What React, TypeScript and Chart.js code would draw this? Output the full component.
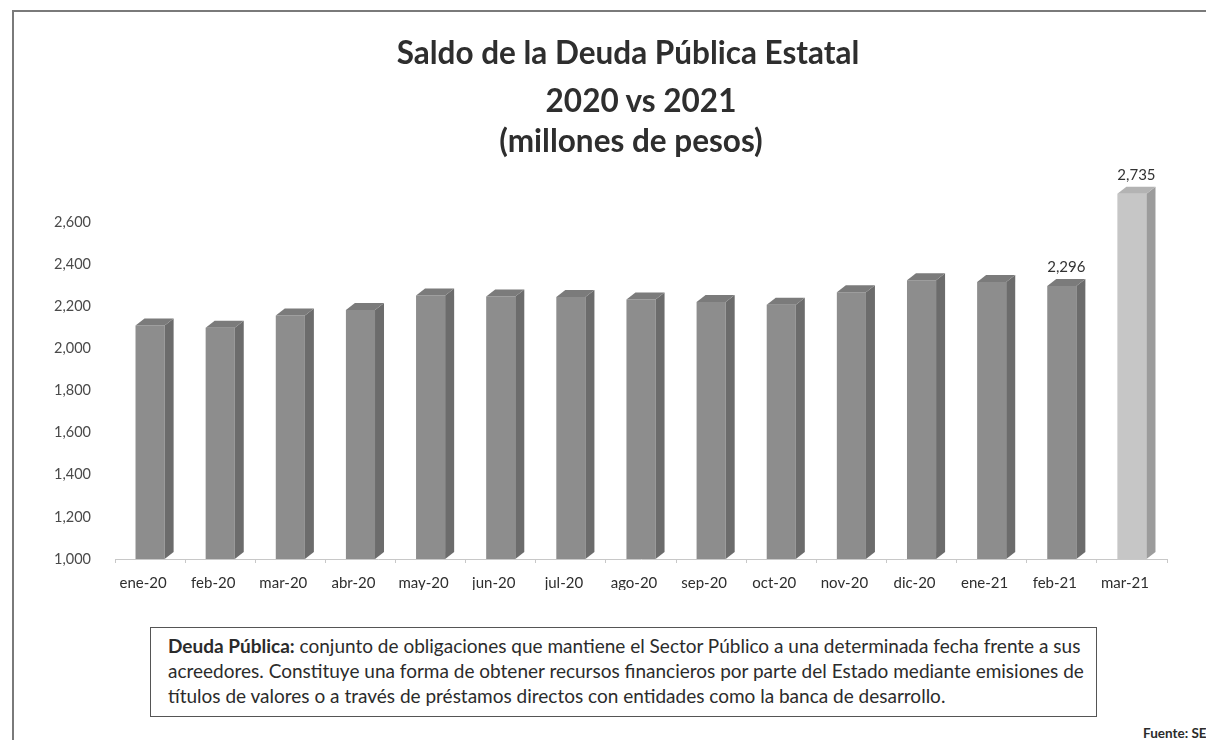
import React, { useEffect, useRef } from "react";
import { Chart, registerables } from "chart.js";

Chart.register(...registerables);

const categories = [
  "ene-20", "feb-20", "mar-20", "abr-20", "may-20", "jun-20", "jul-20", "ago-20",
  "sep-20", "oct-20", "nov-20", "dic-20", "ene-21", "feb-21", "mar-21",
];
const values = [2109, 2098, 2156, 2183, 2251, 2247, 2244, 2232, 2220, 2207, 2267, 2324, 2315, 2296, 2735];
const labeledCategories = ["feb-21", "mar-21"];
const highlightedCategories = ["mar-21"];
const yTicks = [1000, 1200, 1400, 1600, 1800, 2000, 2200, 2400, 2600];
const yMin = 1000;
const yMax = 2800;
const titleLines = ["Saldo de la Deuda Pública Estatal", "2020 vs 2021", "(millones de pesos)"];
const titleCenters = [
  { x: 628, y: 53 },
  { x: 641, y: 101 },
  { x: 631, y: 141 },
];
const noteBold = "Deuda Pública:";
const noteLines = [
  " conjunto de obligaciones que mantiene el Sector Público a una determinada fecha frente a sus",
  "acreedores. Constituye una forma de obtener recursos financieros por parte del Estado mediante emisiones de",
  "títulos de valores o a través de préstamos directos con entidades como la banca de desarrollo.",
];
const sourceText = "Fuente: SEF";

const FONT = "Lato, 'Open Sans', 'DejaVu Sans', sans-serif";
const DX = 9;
const DY = 7;

const fmt = (v: number) => Number(v).toLocaleString("en-US");

const bar3d = {
  id: "bar3d",
  afterDatasetsDraw(chart: any) {
    const ctx = chart.ctx;
    const meta = chart.getDatasetMeta(0);
    const bottom = chart.chartArea.bottom;
    ctx.save();
    meta.data.forEach((bar: any, i: number) => {
      const { x, y, width } = bar.getProps(["x", "y", "width"], true);
      const l = x - width / 2;
      const r = x + width / 2;
      const light = highlightedCategories.includes(categories[i]);
      // side face
      ctx.fillStyle = light ? "#9c9c9c" : "#6c6c6c";
      ctx.beginPath();
      ctx.moveTo(r, y);
      ctx.lineTo(r + DX, y - DY);
      ctx.lineTo(r + DX, bottom - DY);
      ctx.lineTo(r, bottom);
      ctx.closePath();
      ctx.fill();
      // top face
      ctx.fillStyle = light ? "#b3b3b3" : "#7b7b7b";
      ctx.beginPath();
      ctx.moveTo(l, y);
      ctx.lineTo(l + DX, y - DY);
      ctx.lineTo(r + DX, y - DY);
      ctx.lineTo(r, y);
      ctx.closePath();
      ctx.fill();
      if (labeledCategories.includes(categories[i])) {
        ctx.fillStyle = "#333";
        ctx.font = `15px ${FONT}`;
        ctx.textAlign = "center";
        ctx.textBaseline = "bottom";
        ctx.fillText(fmt(values[i]), x + DX / 2, y - DY - 4);
      }
    });
    ctx.restore();
  },
};

export default function App() {
  const ref = useRef<HTMLCanvasElement | null>(null);

  useEffect(() => {
    if (!ref.current) return;
    const chart = new Chart(ref.current, {
      type: "bar",
      data: {
        labels: categories,
        datasets: [
          {
            data: values,
            backgroundColor: categories.map((c) =>
              highlightedCategories.includes(c) ? "#c6c6c6" : "#8d8d8d"
            ),
            borderWidth: 0,
            barPercentage: 0.415,
            categoryPercentage: 1,
          },
        ],
      },
      options: {
        responsive: false,
        animation: false,
        devicePixelRatio: 1,
        layout: { padding: { left: 30, right: 45, top: 170, bottom: 20 } },
        plugins: {
          legend: { display: false },
          title: { display: false },
          tooltip: { enabled: false },
        },
        scales: {
          x: {
            grid: {
              display: true,
              drawOnChartArea: false,
              drawTicks: true,
              tickLength: 4,
              color: "#c8c8c8",
            },
            border: { display: true, color: "#c8c8c8", dash: [2, 2] },
            ticks: {
              color: "#2e2e2e",
              font: { family: FONT, size: 15 },
              labelOffset: -7,
              padding: 11,
              maxRotation: 0,
              autoSkip: false,
            },
            afterFit: (s: any) => {
              s.height = 31;
            },
          },
          y: {
            min: yMin,
            max: yMax,
            grid: { display: false, drawTicks: false },
            border: { display: false },
            ticks: {
              stepSize: 200,
              color: "#4a4a4a",
              font: { family: FONT, size: 14.5 },
              padding: 24,
              callback: (v: any) => (yTicks.includes(Number(v)) ? fmt(Number(v)) : ""),
            },
            afterFit: (s: any) => {
              s.width = 73;
            },
          },
        },
      },
      plugins: [bar3d],
    });
    return () => chart.destroy();
  }, []);

  return (
    <div
      style={{
        position: "relative",
        marginLeft: 4,
        marginTop: 2,
        width: 1202,
        height: 730,
        borderLeft: "2px solid #7a7a7a",
        borderTop: "2px solid #7a7a7a",
        overflow: "hidden",
        boxSizing: "border-box",
        fontFamily: FONT,
        background: "#fff",
      }}
    >
      <canvas ref={ref} width={1200} height={600} style={{ position: "absolute", left: -2, top: -2 }} />
      {titleLines.map((t, i) => (
        <div
          key={t}
          style={{
            position: "absolute",
            left: titleCenters[i].x - 14 - 300,
            width: 600,
            top: titleCenters[i].y - 12 - 21.5,
            textAlign: "center",
            fontWeight: 700,
            fontSize: 31.5,
            lineHeight: "40px",
            color: "#2e2e2e",
            whiteSpace: "nowrap",
          }}
        >
          {t}
        </div>
      ))}
      <div
        style={{
          position: "absolute",
          left: 136,
          top: 615,
          width: 947,
          height: 90,
          border: "1.5px solid #555",
          boxSizing: "border-box",
          padding: "5px 0 0 17px",
          fontSize: 19,
          lineHeight: "25px",
          color: "#2b2b2b",
          whiteSpace: "nowrap",
        }}
      >
        <div>
          <b>{noteBold}</b>
          {noteLines[0]}
        </div>
        <div>{noteLines[1]}</div>
        <div>{noteLines[2]}</div>
      </div>
      <div
        style={{
          position: "absolute",
          left: 1129,
          top: 713,
          fontSize: 13.5,
          fontWeight: 700,
          color: "#2b2b2b",
          whiteSpace: "nowrap",
        }}
      >
        {sourceText}
      </div>
    </div>
  );
}
